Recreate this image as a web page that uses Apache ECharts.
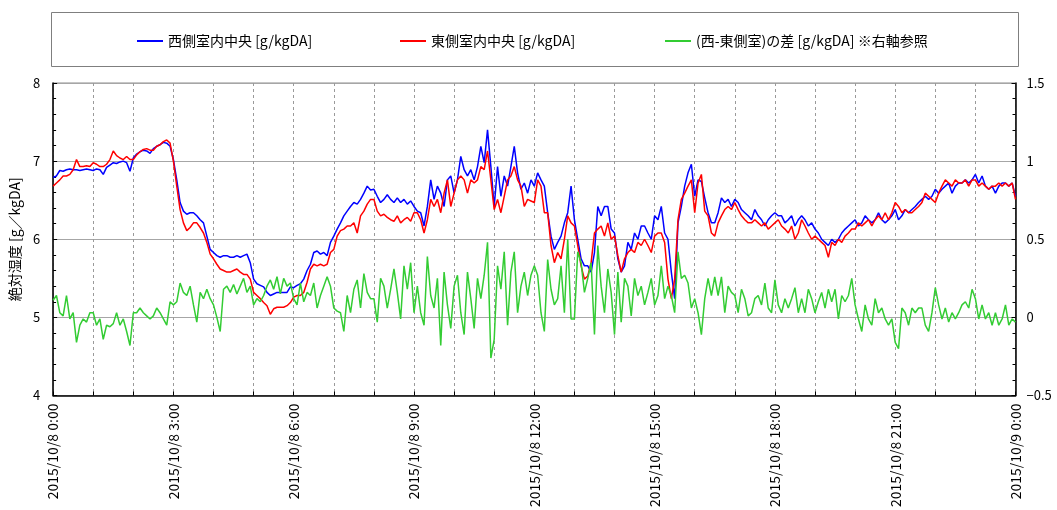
<!DOCTYPE html>
<html>
<head>
<meta charset="utf-8">
<script src="https://cdn.jsdelivr.net/npm/echarts@6/dist/echarts.min.js"></script>
<style>
  html, body { margin: 0; padding: 0; background: #fff; }
  #chart { width: 1057px; height: 510px; }
</style>
</head>
<body>
<div id="chart"></div>
<script>
// 2015/10/8 0:00 – 2015/10/9 0:00, one reading every 5 minutes
const stepMinutes = 5;

const hourLabels = [
  '2015/10/8 0:00', '2015/10/8 3:00', '2015/10/8 6:00', '2015/10/8 9:00',
  '2015/10/8 12:00', '2015/10/8 15:00', '2015/10/8 18:00', '2015/10/8 21:00',
  '2015/10/9 0:00'
];

const seriesNames = [
  '西側室内中央 [g/kgDA]',
  '東側室内中央 [g/kgDA]',
  '(西-東側室)の差 [g/kgDA] ※右軸参照'
];

// 西側室内中央 absolute humidity [g/kgDA]
const westCenter = [
  6.79,6.81,6.88,6.87,6.89,6.90,6.89,6.89,6.88,6.89,6.90,6.89,
  6.88,6.90,6.89,6.83,6.92,6.95,6.98,6.97,6.99,7.00,6.98,6.87,
  7.04,7.09,7.12,7.14,7.13,7.10,7.16,7.19,7.21,7.24,7.23,7.19,
  7.02,6.76,6.47,6.36,6.32,6.34,6.34,6.30,6.25,6.21,6.04,5.87,
  5.83,5.79,5.77,5.79,5.79,5.77,5.77,5.79,5.77,5.79,5.81,5.70,
  5.49,5.43,5.41,5.39,5.32,5.28,5.30,5.32,5.32,5.32,5.32,5.39,
  5.38,5.41,5.43,5.49,5.60,5.68,5.83,5.85,5.81,5.83,5.79,5.96,
  6.04,6.13,6.21,6.30,6.36,6.42,6.47,6.45,6.51,6.59,6.68,6.63,
  6.64,6.55,6.47,6.51,6.57,6.51,6.47,6.53,6.47,6.51,6.45,6.49,
  6.42,6.36,6.34,6.17,6.42,6.76,6.51,6.68,6.59,6.42,6.76,6.81,
  6.59,6.76,7.06,6.89,6.81,6.89,6.76,6.93,7.19,6.98,7.40,6.93,
  6.42,6.93,6.55,6.81,6.68,6.93,7.19,6.85,6.64,6.72,6.59,6.76,
  6.68,6.85,6.76,6.68,6.34,6.04,5.87,5.96,6.04,6.21,6.34,6.68,
  6.25,6.00,5.75,5.66,5.66,5.58,5.83,6.42,6.30,6.42,6.42,6.13,
  6.08,5.75,5.58,5.66,5.96,5.87,6.08,6.00,6.17,6.17,6.08,6.00,
  6.30,6.25,6.42,6.08,6.00,5.58,5.24,6.21,6.42,6.68,6.85,6.96,
  6.55,6.76,6.74,6.53,6.34,6.21,6.21,6.34,6.53,6.47,6.51,6.42,
  6.51,6.47,6.38,6.34,6.30,6.25,6.38,6.30,6.25,6.17,6.25,6.30,
  6.34,6.30,6.30,6.21,6.25,6.30,6.17,6.25,6.30,6.25,6.17,6.21,
  6.13,6.08,6.00,5.96,5.92,6.00,5.96,6.00,6.08,6.13,6.17,6.21,
  6.25,6.17,6.21,6.30,6.25,6.21,6.25,6.34,6.25,6.21,6.25,6.30,
  6.38,6.25,6.30,6.38,6.34,6.38,6.42,6.47,6.51,6.55,6.51,6.55,
  6.64,6.59,6.64,6.68,6.72,6.59,6.68,6.72,6.72,6.76,6.72,6.76,
  6.83,6.72,6.81,6.68,6.64,6.68,6.59,6.68,6.72,6.72,6.68,6.72,
  6.55
];

// 東側室内中央 absolute humidity [g/kgDA]
const eastCenter = [
  6.68,6.72,6.76,6.81,6.81,6.83,6.89,7.02,6.93,6.93,6.94,6.93,
  6.98,6.96,6.93,6.93,6.96,7.02,7.13,7.07,7.04,7.02,7.06,7.02,
  7.02,7.08,7.12,7.15,7.16,7.14,7.14,7.19,7.21,7.25,7.27,7.23,
  7.00,6.68,6.38,6.21,6.11,6.15,6.21,6.21,6.15,6.08,5.96,5.81,
  5.75,5.68,5.62,5.60,5.58,5.58,5.60,5.62,5.58,5.55,5.55,5.49,
  5.32,5.28,5.24,5.19,5.15,5.04,5.11,5.13,5.13,5.13,5.15,5.19,
  5.26,5.28,5.28,5.32,5.45,5.62,5.68,5.66,5.68,5.66,5.68,5.83,
  5.87,6.04,6.11,6.13,6.17,6.17,6.21,6.08,6.30,6.36,6.45,6.51,
  6.51,6.36,6.30,6.32,6.28,6.25,6.23,6.30,6.21,6.25,6.28,6.23,
  6.34,6.34,6.25,6.08,6.25,6.51,6.42,6.51,6.34,6.59,6.76,6.42,
  6.59,6.76,6.81,6.76,6.59,6.76,6.72,6.76,6.93,6.89,7.13,6.76,
  6.38,6.51,6.34,6.55,6.76,6.81,6.93,6.76,6.68,6.42,6.51,6.49,
  6.47,6.76,6.68,6.34,6.34,5.92,5.70,5.83,5.75,6.00,6.30,6.21,
  6.17,5.92,5.66,5.49,5.53,5.70,6.08,6.13,6.17,6.04,6.21,6.00,
  6.04,5.79,5.58,5.75,5.83,5.87,5.83,5.96,5.92,6.00,5.92,5.83,
  6.04,6.08,6.08,5.96,5.49,5.24,5.49,6.25,6.51,6.59,6.68,6.76,
  6.34,6.72,6.83,6.36,6.30,6.08,6.04,6.21,6.30,6.38,6.42,6.38,
  6.47,6.38,6.30,6.25,6.21,6.21,6.25,6.21,6.17,6.21,6.13,6.17,
  6.21,6.25,6.17,6.13,6.08,6.17,6.00,6.08,6.25,6.17,6.08,6.00,
  6.04,6.00,5.96,5.92,5.77,5.96,5.92,6.00,5.96,6.04,6.08,6.13,
  6.13,6.21,6.17,6.21,6.25,6.17,6.25,6.30,6.25,6.34,6.25,6.34,
  6.47,6.42,6.34,6.38,6.34,6.34,6.38,6.42,6.47,6.59,6.55,6.51,
  6.47,6.59,6.68,6.76,6.72,6.68,6.76,6.72,6.72,6.76,6.68,6.76,
  6.76,6.68,6.72,6.68,6.64,6.68,6.68,6.72,6.68,6.72,6.68,6.72,
  6.51
];

// 西側 − 東側 difference [g/kgDA], plotted on the right axis
const westEastDiff = [
  0.11,0.14,0.03,0.01,0.14,-0.01,0.03,-0.16,-0.05,-0.01,-0.03,0.03,
  0.03,-0.05,-0.01,-0.14,-0.05,-0.06,-0.04,0.03,-0.05,-0.01,-0.09,-0.18,
  0.03,0.03,0.06,0.03,0.01,-0.01,0.01,0.06,0.03,-0.01,-0.05,0.10,
  0.08,0.10,0.22,0.16,0.14,0.20,0.08,-0.03,0.16,0.12,0.18,0.12,
  0.08,0.00,-0.09,0.18,0.20,0.16,0.21,0.15,0.20,0.25,0.16,0.20,
  0.08,0.12,0.10,0.14,0.20,0.24,0.18,0.26,0.15,0.25,0.20,0.22,
  0.12,0.08,0.22,0.10,0.16,0.14,0.22,0.06,0.14,0.20,0.26,0.20,
  0.06,0.04,0.03,-0.09,0.14,0.03,0.18,0.24,0.06,0.28,0.16,0.12,
  0.12,-0.03,0.25,0.20,0.06,0.18,0.31,0.16,-0.01,0.33,0.18,0.35,
  0.03,0.20,0.03,-0.05,0.39,0.14,0.06,0.25,-0.18,0.29,0.08,-0.07,
  0.20,0.27,0.03,-0.11,0.29,0.12,-0.07,0.25,0.12,0.27,0.48,-0.26,
  -0.14,0.33,0.18,0.42,-0.05,0.29,0.42,0.03,0.20,0.29,0.14,0.27,
  0.33,0.27,0.03,-0.09,0.37,0.18,0.08,0.12,0.33,0.03,0.50,-0.01,
  -0.01,0.42,0.35,0.16,0.25,0.35,-0.11,0.46,0.20,0.03,0.31,0.16,
  -0.11,0.29,-0.03,0.25,0.20,0.01,0.25,0.14,0.20,0.08,0.16,0.25,
  0.08,0.14,0.33,0.12,0.20,0.14,0.03,0.42,0.25,0.27,0.22,0.06,
  0.12,0.03,-0.11,0.12,0.25,0.14,0.26,0.14,0.26,0.03,0.20,0.16,
  0.14,0.03,0.18,0.12,0.01,0.03,0.12,0.14,0.08,0.22,0.06,0.03,
  0.24,0.08,0.03,0.12,0.06,0.12,0.19,0.03,0.12,0.03,0.18,0.12,
  0.03,0.10,0.16,0.06,0.18,0.10,0.18,-0.01,0.14,0.10,0.14,0.25,
  0.08,-0.01,-0.09,0.08,-0.01,-0.05,0.12,0.03,0.06,-0.01,-0.05,-0.01,
  -0.16,-0.20,0.06,0.03,-0.05,0.06,0.03,0.06,0.06,-0.05,-0.09,0.03,
  0.19,0.08,-0.01,0.06,-0.03,0.03,-0.01,0.03,0.08,0.10,0.06,0.18,
  0.12,-0.01,0.08,-0.01,0.03,-0.05,0.03,-0.05,-0.01,0.08,-0.05,-0.01,
  -0.03
];

const FONT = '"Noto Sans CJK JP", "Noto Sans", sans-serif';

// pair each reading with its elapsed time in hours
const toPoints = arr => arr.map((v, i) => [i * stepMinutes / 60, v]);

const chart = echarts.init(document.getElementById('chart'), null, { renderer: 'canvas' });

const legendBase = {
  top: 34,
  padding: 0,
  itemWidth: 26,
  itemHeight: 2,
  icon: 'rect',
  textStyle: { fontFamily: FONT, fontSize: 14, color: '#000' },
  selectedMode: false
};

function lineSeries(name, data, color, axis, z) {
  return {
    name, type: 'line', yAxisIndex: axis, data: toPoints(data),
    symbol: 'none', color,
    lineStyle: { width: 1.5, color }, z
  };
}

chart.setOption({
  animation: false,
  backgroundColor: '#fff',
  textStyle: { fontFamily: FONT },
  graphic: [{
    type: 'rect',
    shape: { x: 51.5, y: 12.5, width: 967, height: 54 },
    style: { fill: 'none', stroke: '#7f7f7f', lineWidth: 1 },
    silent: true
  }],
  legend: [
    Object.assign({ left: 137, data: [seriesNames[0]] }, legendBase),
    Object.assign({ left: 400, data: [seriesNames[1]] }, legendBase),
    Object.assign({ left: 665, data: [seriesNames[2]] }, legendBase)
  ],
  grid: {
    left: 49.5, right: 41.5, top: 83, bottom: 113,
    show: true, borderColor: '#8c8c8c', borderWidth: 1
  },
  xAxis: {
    type: 'value',
    min: 0, max: 24, interval: 1,
    axisLine: { onZero: false, lineStyle: { color: '#000', width: 1.5 } },
    axisTick: { inside: true, length: 4, lineStyle: { color: '#000' } },
    splitLine: { show: true, lineStyle: { color: '#9a9a9a', type: [3, 3], width: 1 } },
    axisLabel: {
      rotate: 90,
      margin: 8,
      fontSize: 14,
      color: '#000',
      fontFamily: FONT,
      showMinLabel: true,
      showMaxLabel: true,
      formatter: v => (v % 3 === 0 ? hourLabels[v / 3] : '')
    }
  },
  yAxis: [{
    type: 'value',
    min: 4, max: 8, interval: 1,
    name: '絶対湿度 [g／kgDA]',
    nameLocation: 'middle',
    nameRotate: 90,
    nameGap: 27,
    nameTextStyle: { fontSize: 14, color: '#000', fontFamily: FONT },
    axisLine: { show: true, onZero: false, lineStyle: { color: '#000', width: 1.5 } },
    axisTick: { show: true, inside: true, length: 4, lineStyle: { color: '#000' } },
    minorTick: { show: true, splitNumber: 5, length: 3, lineStyle: { color: '#000' } },
    splitLine: { show: true, lineStyle: { color: '#a6a6a6', width: 1 } },
    axisLabel: { fontSize: 13, color: '#000', margin: 13, fontFamily: FONT }
  }, {
    type: 'value',
    min: -0.5, max: 1.5, interval: 0.5,
    position: 'right',
    axisLine: { show: true, onZero: false, lineStyle: { color: '#000', width: 1.5 } },
    axisTick: { show: true, inside: true, length: 4, lineStyle: { color: '#000' } },
    minorTick: { show: true, splitNumber: 5, length: 3, lineStyle: { color: '#000' } },
    splitLine: { show: false },
    axisLabel: {
      fontSize: 13, color: '#000', margin: 11, fontFamily: FONT,
      formatter: v => String(v).replace('-', '\u2212')
    }
  }],
  series: [
    lineSeries(seriesNames[0], westCenter, '#0000ff', 0, 2),
    lineSeries(seriesNames[1], eastCenter, '#ff0000', 0, 3),
    lineSeries(seriesNames[2], westEastDiff, '#33cc33', 1, 4)
  ]
});
</script>
</body>
</html>
